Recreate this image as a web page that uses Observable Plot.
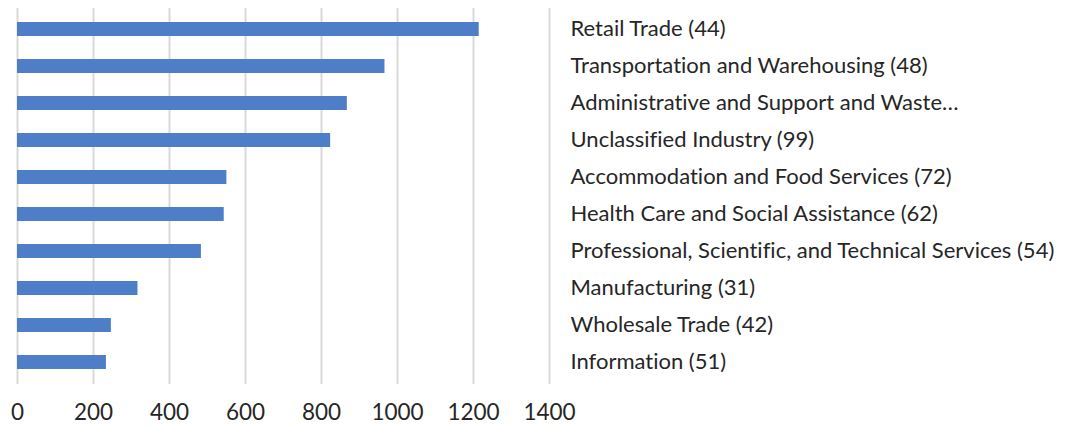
<!DOCTYPE html>
<html>
<head>
<meta charset="utf-8">
<script src="https://cdn.jsdelivr.net/npm/d3@7"></script>
<script src="https://cdn.jsdelivr.net/npm/@observablehq/plot@0.6"></script>
<style>
  html, body { margin: 0; padding: 0; background: #fff; }
  #chart svg { display: block; }
  #chart svg text { font-variant-ligatures: none; }
</style>
</head>
<body>
<div id="chart"></div>
<script>
const categories = [
  "Retail Trade (44)",
  "Transportation and Warehousing (48)",
  "Administrative and Support and Waste…",
  "Unclassified Industry (99)",
  "Accommodation and Food Services (72)",
  "Health Care and Social Assistance (62)",
  "Professional, Scientific, and Technical Services (54)",
  "Manufacturing (31)",
  "Wholesale Trade (42)",
  "Information (51)"
];
const values = [1215, 967, 868, 824, 551, 544, 484, 317, 247, 234];
const xTicks = [0, 200, 400, 600, 800, 1000, 1200, 1400];

const data = categories.map((c, i) => ({category: c, value: values[i]}));

const chart = Plot.plot({
  width: 1083,
  height: 427,
  marginLeft: 17,
  marginRight: 534,
  marginTop: 8,
  marginBottom: 43,
  style: {fontFamily: "Lato", fontSize: "22px", color: "#262626", background: "#fff"},
  x: {domain: [0, 1400], ticks: xTicks},
  y: {domain: categories, paddingInner: 0.61, paddingOuter: 0.305},
  marks: [
    Plot.gridX(xTicks, {stroke: "#d9d9d9", strokeOpacity: 1, strokeWidth: 2}),
    Plot.barX(data, {x: "value", y: "category", fill: "#4e7ec8"}),
    Plot.axisX({ticks: xTicks, tickFormat: d => String(d), tickSize: 0, tickPadding: 20, label: null, fontSize: 22.5}),
    Plot.axisY({anchor: "right", tickSize: 0, tickPadding: 21, label: null, fontSize: 22, textAnchor: "start", dy: -1})
  ]
});
document.getElementById("chart").appendChild(chart);
</script>
</body>
</html>
